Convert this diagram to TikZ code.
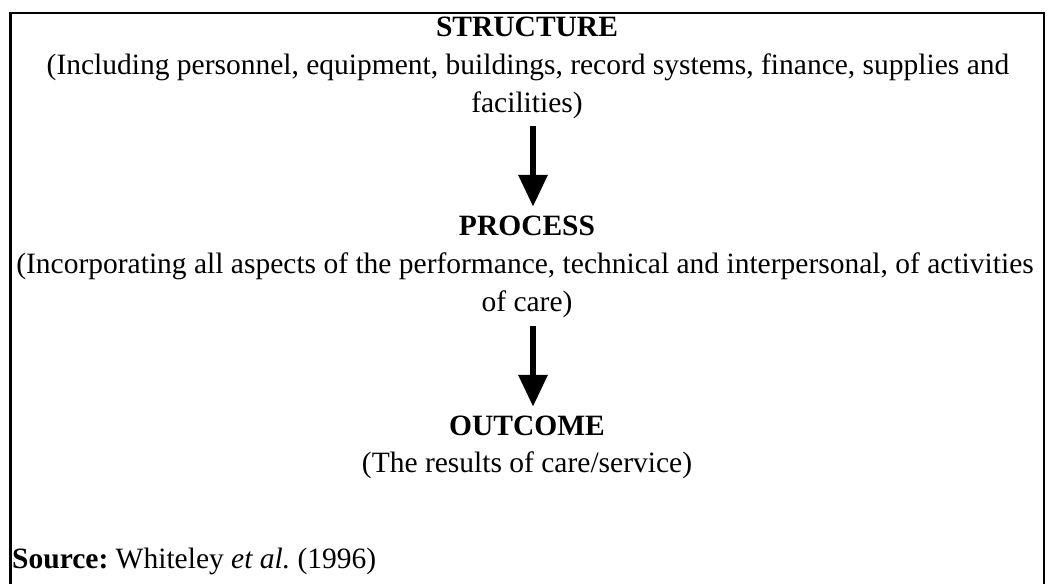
\documentclass[tikz,border=0pt]{standalone}
\usepackage{fontspec}
\setmainfont{Liberation Serif}
\usetikzlibrary{arrows.meta}
\frenchspacing

\begin{document}
\begin{tikzpicture}[x=1pt,y=-1pt,
    hnode/.style={inner sep=0pt,anchor=base,font=\fontsize{29.5}{38}\selectfont\bfseries},
    tnode/.style={inner sep=0pt,anchor=base,font=\fontsize{29.5}{38}\selectfont},
    bigarrow/.style={line width=6.5pt,-{Triangle[width=28pt,length=32pt]}}]
    \useasboundingbox (0,0) rectangle (1048,583);
    \draw[line width=2.5pt] (10.5,600) |- (1044,13) -- (1044,600);

    \node[hnode] (s) at (527,37) {STRUCTURE};
    \node[tnode] (s1) at (528,75) {(Including personnel, equipment, buildings, record systems, finance, supplies and};
    \node[tnode] (s2) at (527,113) {facilities)};
    \node[hnode] (p) at (527,235) {PROCESS};
    \node[tnode] (p1) at (525,273) {(Incorporating all aspects of the performance, technical and interpersonal, of activities};
    \node[tnode] (p2) at (527,311) {of care)};
    \node[hnode] (o) at (527,435) {OUTCOME};
    \node[tnode] (o1) at (527,472) {(The results of care/service)};
    \node[tnode,anchor=base west] (src) at (12,568) {\textbf{Source:} Whiteley \textit{et al.}\ (1996)};

    \draw[bigarrow,shorten <=7pt,shorten >=8.5pt] ([xshift=6pt]s2.south) -- ([xshift=6pt]p.north);
    \draw[bigarrow,shorten <=9pt,shorten >=8.5pt] ([xshift=6pt]p2.south) -- ([xshift=6pt]o.north);
\end{tikzpicture}
\end{document}
